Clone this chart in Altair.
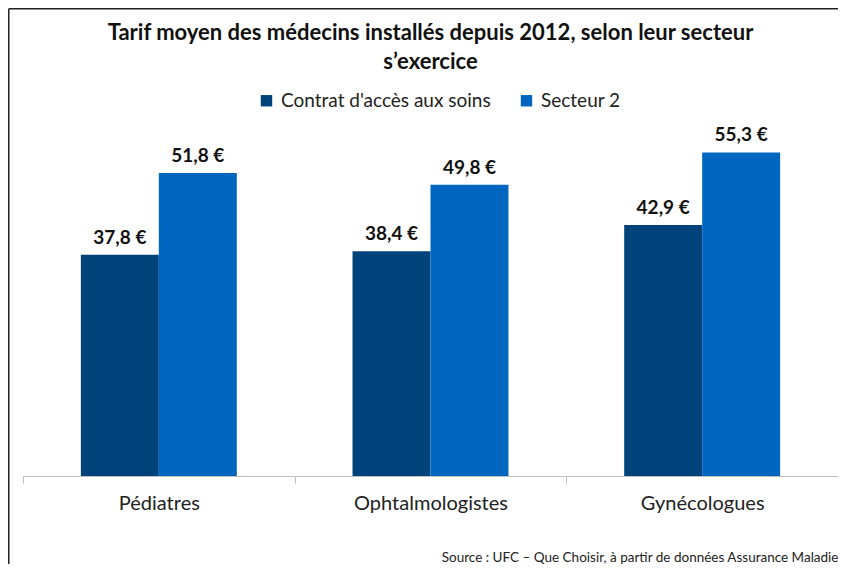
import altair as alt
import pandas as pd

categories = ["Pédiatres", "Ophtalmologistes", "Gynécologues"]
series = ["Contrat d'accès aux soins", "Secteur 2"]
cas_values = [37.8, 38.4, 42.9]
s2_values = [51.8, 49.8, 55.3]
colors = ["#00437A", "#0066BF"]

title_lines = ["Tarif moyen des médecins installés depuis 2012, selon leur secteur", "s’exercice"]
source_text = "Source : UFC – Que Choisir, à partir de données Assurance Maladie"

rows = []
for c, a, b in zip(categories, cas_values, s2_values):
    for s, v in zip(series, [a, b]):
        rows.append({"cat": c, "serie": s, "val": v,
                     "label": f"{v:.1f}".replace(".", ",") + " €"})
df = pd.DataFrame(rows)

W, H = 815, 351
FONT = "Lato"

base = alt.Chart(df).encode(
    x=alt.X("cat:N", sort=categories,
            scale=alt.Scale(paddingInner=0, paddingOuter=0),
            axis=alt.Axis(title=source_text, titleAnchor="end", titleAlign="right",
                          titleX=W, titleY=85, titleBaseline="alphabetic",
                          titleFontSize=13.5, titleFontWeight="normal", titleColor="#222",
                          titleFont=FONT,
                          labelAngle=0, labelFontSize=20, labelColor="#222", labelFont=FONT,
                          labelPadding=10, tickSize=7, tickColor="#BFBFBF",
                          domainColor="#BFBFBF", tickBand="extent", domainWidth=1)),
    xOffset=alt.XOffset("serie:N", sort=series,
                        scale=alt.Scale(paddingInner=0, paddingOuter=0.742)),
    y=alt.Y("val:Q", scale=alt.Scale(domain=[0, 60]), axis=None),
)

bars = base.mark_bar().encode(
    color=alt.Color("serie:N", sort=series,
                    scale=alt.Scale(domain=series, range=colors),
                    legend=alt.Legend(title=None, orient="none", legendX=234, legendY=-34,
                                      direction="horizontal", symbolType="square",
                                      symbolSize=130, symbolStrokeWidth=0, labelLimit=400,
                                      labelFontSize=19, labelFont=FONT, labelColor="#222",
                                      columnPadding=26, labelOffset=5))
)

labels = base.mark_text(baseline="bottom", dy=-7, fontSize=19, fontWeight="bold",
                        font=FONT, color="#111").encode(text="label:N")

frame_data = alt.Data(values=[{"k": 1}])
frame_v = alt.Chart(frame_data).mark_rule(color="#222", strokeWidth=1.5).encode(
    x=alt.value(-14.25), y=alt.value(-116.25), y2=alt.value(H + 100))
frame_h = alt.Chart(frame_data).mark_rule(color="#222", strokeWidth=1.5).encode(
    y=alt.value(-116.25), x=alt.value(-14.25), x2=alt.value(W + 40))

chart = alt.layer(frame_v, frame_h, bars, labels).properties(
    width=W, height=H,
    title=alt.TitleParams(title_lines, fontSize=22, font=FONT, fontWeight="bold",
                          color="#111", anchor="middle", lineHeight=29, offset=-66),
    autosize=alt.AutoSizeParams(type="none"),
    padding={"left": 15, "top": 117, "right": 0, "bottom": 88},
).configure_view(stroke=None)

chart.save("out.html", embed_options={"renderer": "svg", "actions": False})
